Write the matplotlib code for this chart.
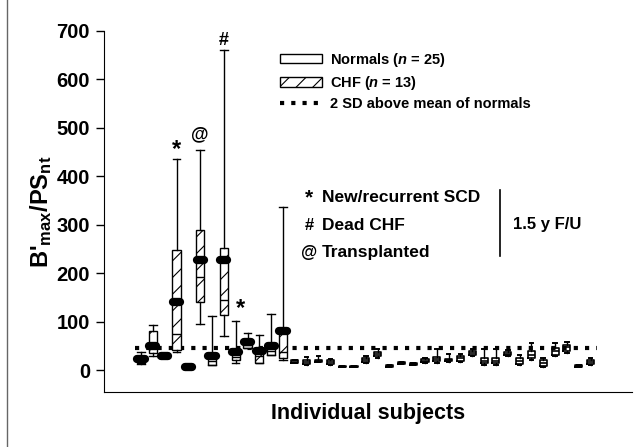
import matplotlib
matplotlib.use("Agg")
import matplotlib.pyplot as plt
from matplotlib.patches import Patch
from matplotlib.lines import Line2D

plt.rcParams['font.family'] = ['Liberation Sans', 'DejaVu Sans']
plt.rcParams['font.weight'] = 'bold'
plt.rcParams['mathtext.fontset'] = 'custom'
plt.rcParams['mathtext.it'] = 'Liberation Sans:bold:italic'
plt.rcParams['mathtext.rm'] = 'Liberation Sans:bold'
plt.rcParams['mathtext.bf'] = 'Liberation Sans:bold'
plt.rcParams['hatch.linewidth'] = 0.8

# CHF patients (13): whisker low, Q1, thin line, Q3, whisker high, thick (bold) line
chf_lo = [12, 28, 28, 38, 7, 95, 10, 70, 15, 45, 15, 30, 20]
chf_q1 = [15, 35, 28, 42, 7, 140, 10, 113, 20, 45, 15, 32, 25]
chf_thin = [20, 45, 28, 75, 7, 193, 18, 145, 27, 52, 28, 40, 38]
chf_q3 = [28, 80, 29, 247, 8, 290, 28, 252, 35, 62, 40, 50, 80]
chf_hi = [38, 93, 29, 435, 8, 455, 112, 660, 102, 77, 72, 115, 337]
chf_bold = [22, 50, 28, 140, 7, 228, 28, 228, 38, 58, 40, 50, 80]

# normals: whisker low, Q1, median, Q3, whisker high
nor_lo = [15, 10, 17, 10, 6, 6, 14, 24, 7, 12, 10, 14, 14, 17, 17, 28, 10, 10, 28, 10, 21, 7, 28, 35, 7, 10]
nor_q1 = [15, 12, 17, 12, 6, 6, 17, 28, 7, 12, 10, 16, 18, 19, 19, 30, 14, 14, 30, 13, 24, 9, 31, 40, 7, 12]
nor_med = [17, 16, 18, 16, 7, 7, 20, 33, 8, 14, 12, 19, 22, 20, 24, 36, 19, 19, 34, 18, 30, 14, 40, 47, 8, 17]
nor_q3 = [20, 20, 20, 20, 9, 9, 24, 38, 10, 17, 14, 22, 27, 23, 28, 40, 25, 25, 38, 24, 40, 20, 45, 52, 10, 20]
nor_hi = [20, 27, 29, 22, 9, 9, 29, 43, 10, 17, 14, 24, 44, 34, 34, 44, 44, 44, 41, 31, 55, 24, 55, 58, 10, 24]

sd2_line = 45
y_ticks = [0, 100, 200, 300, 400, 500, 600, 700]

# symbols over CHF boxes: (subject index, value, symbol)
chf_marks = [(3, 455, '*'), (5, 485, '@'), (7, 680, '#'), (8.4, 128, '*')]

W, H = 634, 447
fig = plt.figure(figsize=(W / 100, H / 100), dpi=100)
ax = fig.add_axes([104 / W, 1 - 392 / H, (632 - 104) / W, (392 - 31) / H])

n_chf = len(chf_lo)
pos_chf = list(range(n_chf))
pos_nor = list(range(n_chf, n_chf + len(nor_lo)))

stats_chf = []
for i in range(n_chf):
    stats_chf.append(dict(whislo=chf_lo[i], q1=chf_q1[i], med=chf_thin[i],
                          q3=chf_q3[i], whishi=chf_hi[i], fliers=[]))
bp = ax.bxp(stats_chf, positions=pos_chf, widths=0.68, patch_artist=True,
            showfliers=False,
            boxprops=dict(facecolor='white', edgecolor='black', lw=1, hatch='//'),
            medianprops=dict(color='black', lw=1),
            whiskerprops=dict(color='black', lw=1),
            capprops=dict(color='black', lw=1))
for c in bp['caps']:
    x = c.get_xdata()
    c.set_xdata([(x[0] + x[1]) / 2 - 0.32, (x[0] + x[1]) / 2 + 0.32])

for i in range(n_chf):
    ax.plot([pos_chf[i] - 0.3, pos_chf[i] + 0.3], [chf_bold[i], chf_bold[i]],
            color='black', lw=6, solid_capstyle='round', zorder=5)

stats_nor = []
for i in range(len(nor_lo)):
    stats_nor.append(dict(whislo=nor_lo[i], q1=nor_q1[i], med=nor_med[i],
                          q3=nor_q3[i], whishi=nor_hi[i], fliers=[]))
ax.bxp(stats_nor, positions=pos_nor, widths=0.6, showfliers=False,
       boxprops=dict(color='black', lw=1.2),
       medianprops=dict(color='black', lw=1.2),
       whiskerprops=dict(color='black', lw=1),
       capprops=dict(color='black', lw=1.4))

ax.hlines(sd2_line, -0.5, pos_nor[-1] + 0.5, colors='black',
          linestyles=(0, (1, 1.7)), lw=3, zorder=1)

for x, y, s in chf_marks:
    size = 17 if s == '*' else 13
    ax.text(x, y, s, ha='center', va='center', fontsize=size, fontweight='bold')

ax.set_xlim(-3.13, 41.5)
ax.set_ylim(-45.4, 700)
ax.set_yticks(y_ticks)
ax.set_xticks([])
ax.tick_params(axis='y', labelsize=14.5, length=6, width=1, direction='out', pad=4)
ax.spines['top'].set_visible(False)
ax.spines['right'].set_visible(False)
ax.spines['left'].set_bounds(-45.4, 700)
for lab in ax.get_yticklabels():
    lab.set_fontweight('bold')

ax.set_ylabel(r"B'$_{\mathrm{max}}$/PS$_{\mathrm{nt}}$", fontsize=17, fontweight='bold', labelpad=2)
ax.set_xlabel('Individual subjects', fontsize=15.5, fontweight='bold', labelpad=8)

handles = [Patch(facecolor='white', edgecolor='black', lw=1),
           Patch(facecolor='white', edgecolor='black', lw=1, hatch='//'),
           Line2D([0], [0], color='black', lw=3, linestyle=(0, (1, 1.7)))]
labels = ['Normals ($n$ = 25)', 'CHF ($n$ = 13)', '2 SD above mean of normals']
ax.legend(handles, labels, loc='upper left', bbox_to_anchor=(280 / W, 1 - 51 / H),
          bbox_transform=fig.transFigure, frameon=False, fontsize=10.5,
          handlelength=2.9, handleheight=0.6, handletextpad=0.5, labelspacing=0.35,
          borderpad=0, borderaxespad=0)

notes = [('*', 'New/recurrent SCD', 198), ('#', 'Dead CHF', 226), ('@', 'Transplanted', 252)]
for s, t, y in notes:
    fig.text(309 / W, 1 - y / H, s, ha='center', va='center',
             fontsize=15 if s == '*' else 12, fontweight='bold')
    fig.text(322 / W, 1 - y / H, t, ha='left', va='center', fontsize=12.5, fontweight='bold')
fig.add_artist(Line2D([500 / W, 500 / W], [1 - 190 / H, 1 - 256 / H], color='black', lw=1.2))
fig.text(513 / W, 1 - 224 / H, '1.5 y F/U', ha='left', va='center', fontsize=12, fontweight='bold')

fig.add_artist(Line2D([7 / W, 7 / W], [0, 1], color='#666666', lw=1))

fig.savefig('out.png', dpi=100)
